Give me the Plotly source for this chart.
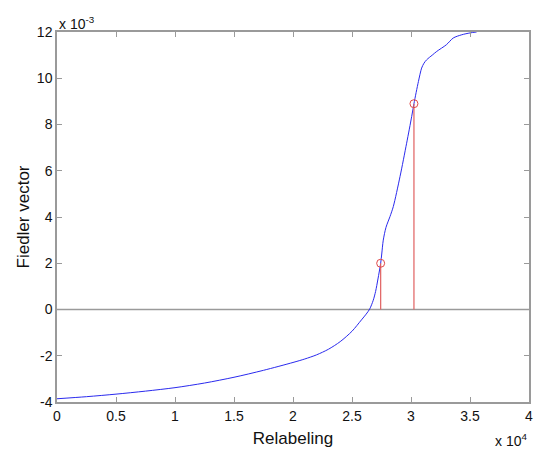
import plotly.graph_objects as go

# Fiedler vector values (sorted) against relabelled vertex index
relabel_idx = [0, 2500, 5000, 7500, 10000, 12500, 15000, 17500, 20000, 21000,
               22000, 23000, 24000, 25000, 25800, 26200, 26500, 26800, 27000,
               27200, 27430, 27520, 27650, 27880, 28220, 28500, 29070, 29630,
               30060, 30250, 30630, 30900, 31100, 31330, 31800, 32180, 33000,
               33580, 34300, 35000, 35560]
fiedler = [-3.86e-3, -3.77e-3, -3.66e-3, -3.53e-3, -3.38e-3, -3.18e-3, -2.93e-3,
           -2.63e-3, -2.29e-3, -2.14e-3, -1.96e-3, -1.72e-3, -1.39e-3, -0.94e-3,
           -0.45e-3, -0.20e-3, 0.02e-3, 0.40e-3, 0.78e-3, 1.32e-3, 2.0e-3,
           2.4e-3, 3.0e-3, 3.55e-3, 4.02e-3, 4.45e-3, 5.75e-3, 7.19e-3, 8.35e-3,
           8.9e-3, 9.86e-3, 10.44e-3, 10.65e-3, 10.8e-3, 11.0e-3, 11.16e-3,
           11.45e-3, 11.74e-3, 11.88e-3, 11.96e-3, 12.0e-3]

# Selected split points shown as stems
stem_x = [27430, 30250]
stem_y = [2.0e-3, 8.9e-3]

x_ticks = [0, 5000, 10000, 15000, 20000, 25000, 30000, 35000, 40000]
x_tick_text = ["0", "0.5", "1", "1.5", "2", "2.5", "3", "3.5", "4"]
y_ticks = [-4e-3, -2e-3, 0, 2e-3, 4e-3, 6e-3, 8e-3, 10e-3, 12e-3]
y_tick_text = ["-4", "-2", "0", "2", "4", "6", "8", "10", "12"]

AXIS_GRAY = "#9a9a9a"
FONT = "Liberation Sans, Arial, sans-serif"

fig = go.Figure()

# zero baseline
fig.add_trace(go.Scatter(x=[0, 40000], y=[0, 0], mode="lines",
                         line=dict(color=AXIS_GRAY, width=1.5),
                         hoverinfo="skip", showlegend=False))

# Fiedler curve
fig.add_trace(go.Scatter(x=relabel_idx, y=fiedler, mode="lines",
                         line=dict(color="#2a2aee", width=1, shape="spline", smoothing=0.8),
                         showlegend=False))

# stems
for sx, sy in zip(stem_x, stem_y):
    fig.add_trace(go.Scatter(x=[sx, sx], y=[0, sy], mode="lines",
                             line=dict(color="#e06060", width=1.2),
                             showlegend=False))
fig.add_trace(go.Scatter(x=stem_x, y=stem_y, mode="markers",
                         marker=dict(symbol="circle-open", size=8,
                                     color="#e04848", line=dict(width=1)),
                         showlegend=False))

axis_common = dict(showline=True, linecolor=AXIS_GRAY, linewidth=1.5, mirror="ticks",
                   ticks="inside", ticklen=5, tickcolor=AXIS_GRAY, tickwidth=1,
                   showgrid=False, zeroline=False, automargin=False,
                   tickfont=dict(family=FONT, size=14, color="#111"))

fig.update_xaxes(range=[0, 40000], tickvals=x_ticks, ticktext=x_tick_text,
                 title=dict(text="Relabeling", font=dict(family=FONT, size=17, color="#111"),
                            standoff=10),
                 **axis_common)
fig.update_yaxes(range=[-4e-3, 12e-3], tickvals=y_ticks, ticktext=y_tick_text,
                 title=dict(text="Fiedler vector", font=dict(family=FONT, size=17, color="#111"),
                            standoff=3),
                 **axis_common)

# scale multipliers
fig.add_annotation(x=0, y=1, xref="paper", yref="paper", xanchor="left", yanchor="bottom",
                   text="x 10<sup>-3</sup>", showarrow=False, yshift=-2,
                   font=dict(family=FONT, size=14, color="#111"))
fig.add_annotation(x=1, y=0, xref="paper", yref="paper", xanchor="right", yanchor="top",
                   text="x 10<sup>4</sup>", showarrow=False, yshift=-27,
                   font=dict(family=FONT, size=14, color="#111"))

fig.update_layout(width=536, height=453,
                  margin=dict(l=57, r=7, t=32, b=51, autoexpand=False),
                  paper_bgcolor="white", plot_bgcolor="white",
                  font=dict(family=FONT))

fig.write_html("out.html")
